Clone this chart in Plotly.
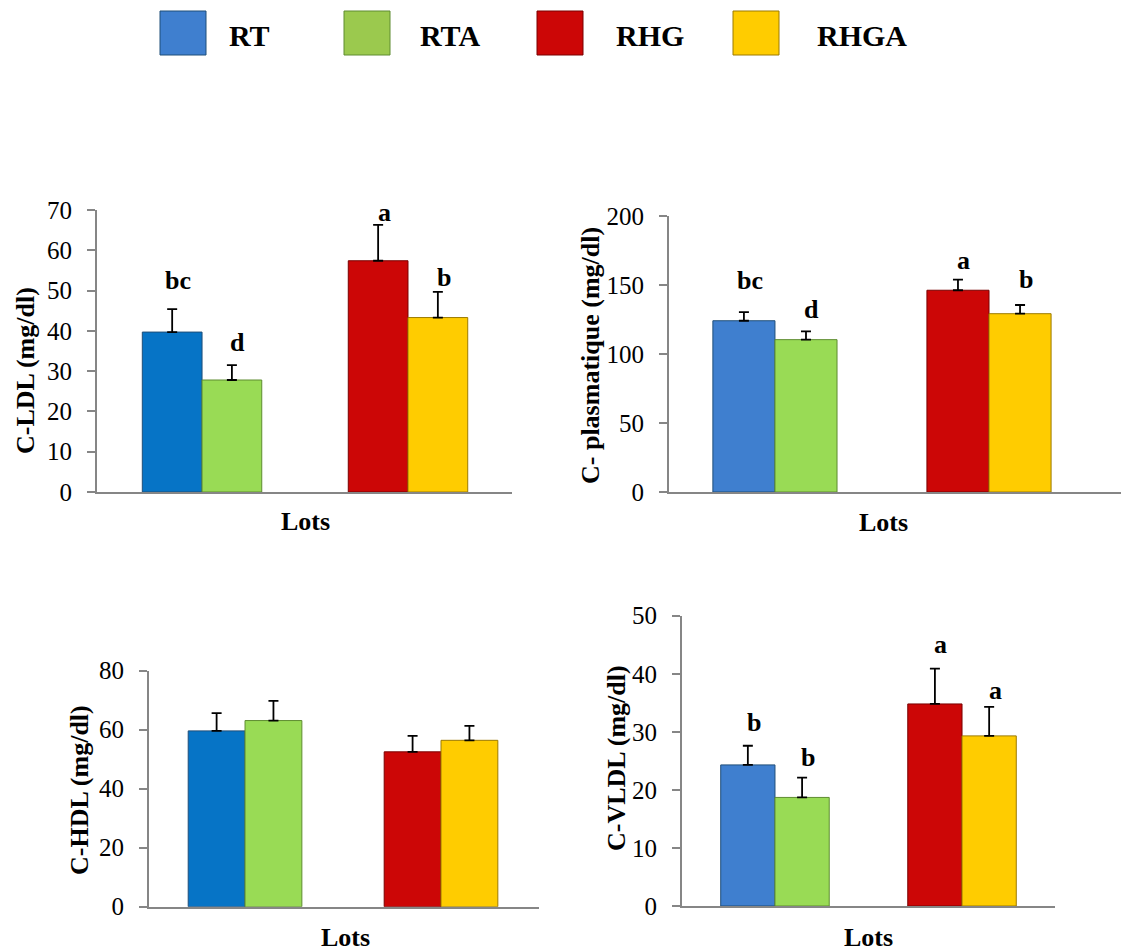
import plotly.graph_objects as go

# ---------------- data ----------------
groups = ["G1", "G2"]
series = ["RT", "RTA", "RHG", "RHGA"]
series_group = [0, 0, 1, 1]
series_side = [-1, 1, -1, 1]

ldl_mean = [39.7, 27.8, 57.4, 43.3]
ldl_err = [5.7, 3.7, 8.9, 6.4]
ldl_letters = ["bc", "d", "a", "b"]
ldl_letter_y = [52.6, 37.2, 69.5, 53.3]

ct_mean = [124.1, 110.4, 146.2, 129.2]
ct_err = [6.3, 6.0, 7.7, 6.3]
ct_letters = ["bc", "d", "a", "b"]
ct_letter_y = [153.6, 132.4, 168.0, 154.0]

hdl_mean = [59.6, 63.1, 52.5, 56.4]
hdl_err = [6.0, 6.7, 5.4, 4.9]

vldl_mean = [24.3, 18.7, 34.8, 29.3]
vldl_err = [3.3, 3.4, 6.1, 5.0]
vldl_letters = ["b", "b", "a", "a"]
vldl_letter_y = [31.6, 25.5, 45.0, 37.1]

ldl_ticks = [0, 10, 20, 30, 40, 50, 60, 70]
ct_ticks = [0, 50, 100, 150, 200]
hdl_ticks = [0, 20, 40, 60, 80]
vldl_ticks = [0, 10, 20, 30, 40, 50]

# ---------------- style ----------------
OFF = 8                      # page body margin compensation
W, H = 1129 - OFF, 951 - OFF
FONT = "Liberation Serif"
AXIS_GRAY = "#868686"
colors_a = ["#0674C6", "#99DB55", "#CC0606", "#FFCC00"]
colors_b = ["#3F7FCF", "#99DB55", "#CC0606", "#FFCC00"]
edge = ["#1F4E79", "#5E8C30", "#7A0000", "#9C7A00"]
BW = 0.29


def px(x):
    return (x - OFF) / W


def py(y):
    return 1 - (y - OFF) / H


fig = go.Figure()

panels = [
    dict(mean=ldl_mean, err=ldl_err, letters=ldl_letters, ly=ldl_letter_y,
         ticks=ldl_ticks, colors=colors_a, ax="", xdom=(97, 512), ydom=(492, 210),
         xr=[-0.51, 1.505], title="C-LDL (mg/dl)", tpos=(25, 371), lpos=(305, 521)),
    dict(mean=ct_mean, err=ct_err, letters=ct_letters, ly=ct_letter_y,
         ticks=ct_ticks, colors=colors_b, ax="2", xdom=(669, 1129), ydom=(492, 216),
         xr=[-0.495, 1.654], title="C- plasmatique (mg/dl)", tpos=(590, 356), lpos=(883, 522)),
    dict(mean=hdl_mean, err=hdl_err, letters=None, ly=None,
         ticks=hdl_ticks, colors=colors_a, ax="3", xdom=(149, 539), ydom=(906.7, 670.7),
         xr=[-0.49, 1.50], title="C-HDL (mg/dl)", tpos=(79, 790), lpos=(345, 937)),
    dict(mean=vldl_mean, err=vldl_err, letters=vldl_letters, ly=vldl_letter_y,
         ticks=vldl_ticks, colors=colors_b, ax="4", xdom=(682, 1055), ydom=(906, 615.7),
         xr=[-0.497, 1.497], title="C-VLDL (mg/dl)", tpos=(616, 758), lpos=(868, 937)),
]

annotations = []
for p in panels:
    ax = p["ax"]
    xref = "x" + ax
    yref = "y" + ax
    for i, name in enumerate(series):
        off = -BW if series_side[i] < 0 else 0.0
        fig.add_trace(go.Bar(
            x=[groups[series_group[i]]], y=[p["mean"][i]], name=name,
            xaxis=xref, yaxis=yref, width=BW, offset=off,
            marker=dict(color=p["colors"][i], line=dict(color=edge[i], width=1)),
            error_y=dict(type="data", symmetric=False, array=[p["err"][i]],
                         arrayminus=[0], color="black", thickness=1.8, width=5),
            showlegend=False, hoverinfo="skip",
        ))
        if p["letters"]:
            annotations.append(dict(
                x=series_group[i] + (off + BW / 2), y=p["ly"][i], xref=xref, yref=yref,
                text="<b>" + p["letters"][i] + "</b>", showarrow=False, xshift=6,
                font=dict(family=FONT, size=26, color="black"),
                xanchor="center", yanchor="middle"))
    xa = dict(domain=[px(p["xdom"][0]), min(1.0, px(p["xdom"][1]))], type="category",
              categoryorder="array", categoryarray=groups, range=p["xr"],
              showticklabels=False, ticks="", showline=True, linecolor=AXIS_GRAY,
              linewidth=2, showgrid=False, zeroline=False, automargin=False,
              anchor=yref)
    ya = dict(domain=[py(p["ydom"][0]), py(p["ydom"][1])],
              range=[0, p["ticks"][-1]], tickmode="array", tickvals=p["ticks"],
              ticks="outside", ticklen=8, tickwidth=2, tickcolor=AXIS_GRAY,
              ticklabelstandoff=10, automargin=False,
              showline=True, linecolor=AXIS_GRAY, linewidth=2, showgrid=False,
              zeroline=False, tickfont=dict(family=FONT, size=25, color="black"),
              anchor=xref)
    fig.update_layout(**{"xaxis" + ax: xa, "yaxis" + ax: ya})
    annotations.append(dict(
        x=px(p["tpos"][0]), y=py(p["tpos"][1]), xref="paper", yref="paper",
        text="<b>" + p["title"] + "</b>", textangle=-90, showarrow=False,
        font=dict(family=FONT, size=26, color="black"),
        xanchor="center", yanchor="middle"))
    annotations.append(dict(
        x=px(p["lpos"][0]), y=py(p["lpos"][1]), xref="paper", yref="paper",
        text="<b>Lots</b>", showarrow=False,
        font=dict(family=FONT, size=26, color="black"),
        xanchor="center", yanchor="middle"))

# ---------------- legend (drawn) ----------------
legend_box_x = [160, 344, 537, 733]
legend_text_x = [227, 418, 614, 815]
legend_colors = ["#3F7FCF", "#9BC94E", "#CC0606", "#FFCC00"]
shapes = []
for i, name in enumerate(series):
    shapes.append(dict(
        type="rect", xref="paper", yref="paper",
        x0=px(legend_box_x[i]), x1=px(legend_box_x[i] + 46),
        y0=py(55), y1=py(11),
        fillcolor=legend_colors[i], line=dict(color=edge[i], width=1)))
    annotations.append(dict(
        x=px(legend_text_x[i]), y=py(36), xref="paper", yref="paper",
        text="<b>" + name + "</b>", showarrow=False,
        font=dict(family=FONT, size=30, color="black"),
        xanchor="left", yanchor="middle"))

fig.update_layout(
    width=W, height=H, margin=dict(l=0, r=0, t=0, b=0, pad=0),
    paper_bgcolor="white", plot_bgcolor="white",
    barmode="overlay", showlegend=False,
    annotations=annotations, shapes=shapes,
    font=dict(family=FONT, color="black"),
)

fig.write_html("out.html")
